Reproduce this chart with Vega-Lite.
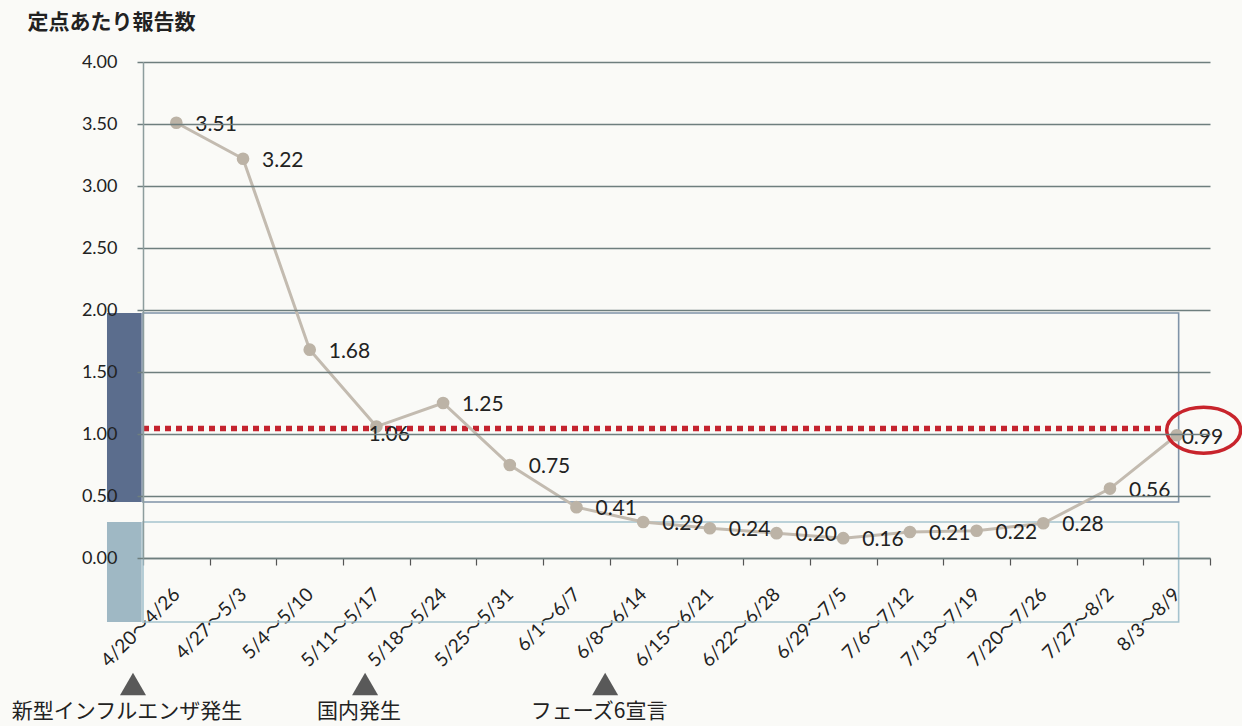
{
  "$schema": "https://vega.github.io/schema/vega-lite/v6.json",
  "width": 1067,
  "height": 496,
  "autosize": {"type": "none"},
  "padding": {"left": 143, "top": 62, "right": 32, "bottom": 168},
  "background": "#fafaf7",
  "config": {"view": {"stroke": null}},
  "datasets": {
    "weekly": [
      {"week": "4/20〜4/26", "v": 3.51},
      {"week": "4/27〜5/3", "v": 3.22},
      {"week": "5/4〜5/10", "v": 1.68},
      {"week": "5/11〜5/17", "v": 1.06},
      {"week": "5/18〜5/24", "v": 1.25},
      {"week": "5/25〜5/31", "v": 0.75},
      {"week": "6/1〜6/7", "v": 0.41},
      {"week": "6/8〜6/14", "v": 0.29},
      {"week": "6/15〜6/21", "v": 0.24},
      {"week": "6/22〜6/28", "v": 0.2},
      {"week": "6/29〜7/5", "v": 0.16},
      {"week": "7/6〜7/12", "v": 0.21},
      {"week": "7/13〜7/19", "v": 0.22},
      {"week": "7/20〜7/26", "v": 0.28},
      {"week": "7/27〜8/2", "v": 0.56},
      {"week": "8/3〜8/9", "v": 0.99}
    ],
    "boxes": [
      {"kind": "darkfill", "x1": -0.54, "x2": -0.02, "y1": 0.452, "y2": 1.976},
      {"kind": "darkbox", "x1": 0, "x2": 15.53, "y1": 0.452, "y2": 1.976},
      {"kind": "lightfill", "x1": -0.54, "x2": -0.02, "y1": -0.516, "y2": 0.29},
      {"kind": "lightbox", "x1": 0, "x2": 15.53, "y1": -0.516, "y2": 0.29}
    ],
    "threshold": [
      {"x1": 0, "x2": 15.32, "y": 1.045}
    ],
    "events": [
      {"pos": -0.15, "lv": -1.016, "label": "新型インフルエンザ発生"},
      {"pos": 3.33, "lv": -1.016, "label": "国内発生"},
      {"pos": 6.93, "lv": -1.016, "label": "フェーズ6宣言"}
    ]
  },
  "resolve": {"scale": {"x": "independent", "y": "independent"}},
  "layer": [
    {
      "layer": [
        {
          "data": {"name": "boxes"},
          "transform": [{"filter": "datum.kind == 'darkfill'"}],
          "mark": {"type": "rect", "fill": "#5b6d8d", "clip": false},
          "encoding": {
            "x": {"field": "x1", "type": "quantitative", "scale": {"domain": [0, 16], "nice": false, "zero": false}, "axis": null},
            "x2": {"field": "x2"},
            "y": {"field": "y1", "type": "quantitative", "scale": {"domain": [0, 4], "nice": false}, "axis": null},
            "y2": {"field": "y2"}
          }
        },
        {
          "data": {"name": "boxes"},
          "transform": [{"filter": "datum.kind == 'lightfill'"}],
          "mark": {"type": "rect", "fill": "#9fb8c4", "clip": false},
          "encoding": {
            "x": {"field": "x1", "type": "quantitative", "scale": {"domain": [0, 16], "nice": false, "zero": false}, "axis": null},
            "x2": {"field": "x2"},
            "y": {"field": "y1", "type": "quantitative", "scale": {"domain": [0, 4], "nice": false}, "axis": null},
            "y2": {"field": "y2"}
          }
        },
        {
          "data": {"name": "boxes"},
          "transform": [{"filter": "datum.kind == 'darkbox'"}],
          "mark": {"type": "rect", "fill": null, "fillOpacity": 0, "stroke": "#7f93a8", "strokeWidth": 1.6, "clip": false},
          "encoding": {
            "x": {"field": "x1", "type": "quantitative", "scale": {"domain": [0, 16], "nice": false, "zero": false}, "axis": null},
            "x2": {"field": "x2"},
            "y": {"field": "y1", "type": "quantitative", "scale": {"domain": [0, 4], "nice": false}, "axis": null},
            "y2": {"field": "y2"}
          }
        },
        {
          "data": {"name": "boxes"},
          "transform": [{"filter": "datum.kind == 'lightbox'"}],
          "mark": {"type": "rect", "fill": null, "fillOpacity": 0, "stroke": "#a5c3ce", "strokeWidth": 1.6, "clip": false},
          "encoding": {
            "x": {"field": "x1", "type": "quantitative", "scale": {"domain": [0, 16], "nice": false, "zero": false}, "axis": null},
            "x2": {"field": "x2"},
            "y": {"field": "y1", "type": "quantitative", "scale": {"domain": [0, 4], "nice": false}, "axis": null},
            "y2": {"field": "y2"}
          }
        },
        {
          "data": {"name": "threshold"},
          "mark": {"type": "rule", "stroke": "#c4232f", "strokeWidth": 5.5, "strokeDash": [6, 5], "clip": false},
          "encoding": {
            "x": {"field": "x1", "type": "quantitative", "scale": {"domain": [0, 16], "nice": false, "zero": false}, "axis": null},
            "x2": {"field": "x2"},
            "y": {"field": "y", "type": "quantitative", "scale": {"domain": [0, 4], "nice": false}, "axis": null}
          }
        },
        {
          "data": {"name": "events"},
          "mark": {"type": "point", "shape": "triangle-up", "size": 676, "filled": true, "fill": "#595959", "opacity": 1, "clip": false},
          "encoding": {
            "x": {"field": "pos", "type": "quantitative", "scale": {"domain": [0, 16], "nice": false, "zero": false}, "axis": null},
            "y": {"field": "lv", "type": "quantitative", "scale": {"domain": [0, 4], "nice": false}, "axis": null}
          }
        },
        {
          "data": {"name": "events"},
          "mark": {"type": "text", "dy": 28, "dx": -6, "align": "center", "baseline": "middle", "font": "Noto Sans CJK JP", "fontSize": 21, "color": "#222222", "clip": false},
          "encoding": {
            "x": {"field": "pos", "type": "quantitative", "scale": {"domain": [0, 16], "nice": false, "zero": false}, "axis": null},
            "y": {"field": "lv", "type": "quantitative", "scale": {"domain": [0, 4], "nice": false}, "axis": null},
            "text": {"field": "label"}
          }
        }
      ]
    },
    {
      "data": {"name": "weekly"},
      "encoding": {
        "x": {
          "field": "week",
          "type": "nominal",
          "sort": null,
          "scale": {"type": "band", "paddingInner": 0, "paddingOuter": 0},
          "axis": {
            "title": null,
            "labelAngle": -45,
            "labelAlign": "right",
            "labelBaseline": "middle",
            "labelFont": "Lato, Noto Sans CJK JP",
            "labelFontSize": 19,
            "labelColor": "#222222",
            "labelPadding": 26,
            "tickBand": "extent",
            "tickSize": 7,
            "tickColor": "#555555",
            "tickWidth": 1.2,
            "domain": true,
            "domainColor": "#6e7e7e",
            "domainWidth": 1.5,
            "grid": false
          }
        },
        "y": {
          "field": "v",
          "type": "quantitative",
          "scale": {"domain": [0, 4], "nice": false},
          "axis": {
            "zindex": 1,
            "title": "定点あたり報告数",
            "titleAngle": 0,
            "titleAlign": "left",
            "titleBaseline": "middle",
            "titleX": -116,
            "titleY": -40,
            "titleFont": "Noto Sans CJK JP",
            "titleFontSize": 21,
            "titleFontWeight": "bold",
            "titleColor": "#222222",
            "values": [0, 0.5, 1, 1.5, 2, 2.5, 3, 3.5, 4],
            "format": ".2f",
            "labelFont": "Lato",
            "labelFontSize": 18,
            "labelColor": "#222222",
            "labelPadding": 20,
            "tickSize": 6,
            "tickColor": "#6e7e7e",
            "tickWidth": 1.5,
            "grid": true,
            "gridColor": "#6e7e7e",
            "gridWidth": 1.5,
            "domain": true,
            "domainColor": "#8d9d9d",
            "domainWidth": 1.5
          }
        }
      },
      "layer": [
        {
          "mark": {"type": "line", "color": "#c3bbb0", "strokeWidth": 3, "clip": false}
        },
        {
          "mark": {"type": "point", "filled": true, "size": 160, "color": "#bcb3a6", "opacity": 1, "clip": false}
        },
        {
          "transform": [{"filter": "datum.v != 1.06 && datum.v != 0.99"}],
          "mark": {"type": "text", "align": "left", "baseline": "middle", "dx": 19, "dy": 2, "font": "Lato", "fontSize": 21, "color": "#222222", "clip": false},
          "encoding": {"text": {"field": "v", "type": "quantitative", "format": ".2f"}}
        },
        {
          "transform": [{"filter": "datum.v == 1.06"}],
          "mark": {"type": "text", "align": "left", "baseline": "middle", "dx": -8, "dy": 8, "font": "Lato", "fontSize": 21, "color": "#222222", "clip": false},
          "encoding": {"text": {"field": "v", "type": "quantitative", "format": ".2f"}}
        },
        {
          "transform": [{"filter": "datum.v == 0.99"}],
          "mark": {"type": "text", "align": "left", "baseline": "middle", "dx": 5, "dy": 3, "font": "Lato", "fontSize": 21, "color": "#222222", "clip": false},
          "encoding": {"text": {"field": "v", "type": "quantitative", "format": ".2f"}}
        },
        {
          "transform": [{"filter": "datum.v == 0.99"}],
          "mark": {"type": "point", "shape": "M-1,0A1,0.62,0,1,1,1,0A1,0.62,0,1,1,-1,0Z", "size": 5476, "filled": false, "stroke": "#c8242c", "strokeWidth": 3.5, "opacity": 1, "xOffset": 27, "yOffset": -5, "clip": false}
        }
      ]
    }
  ]
}
